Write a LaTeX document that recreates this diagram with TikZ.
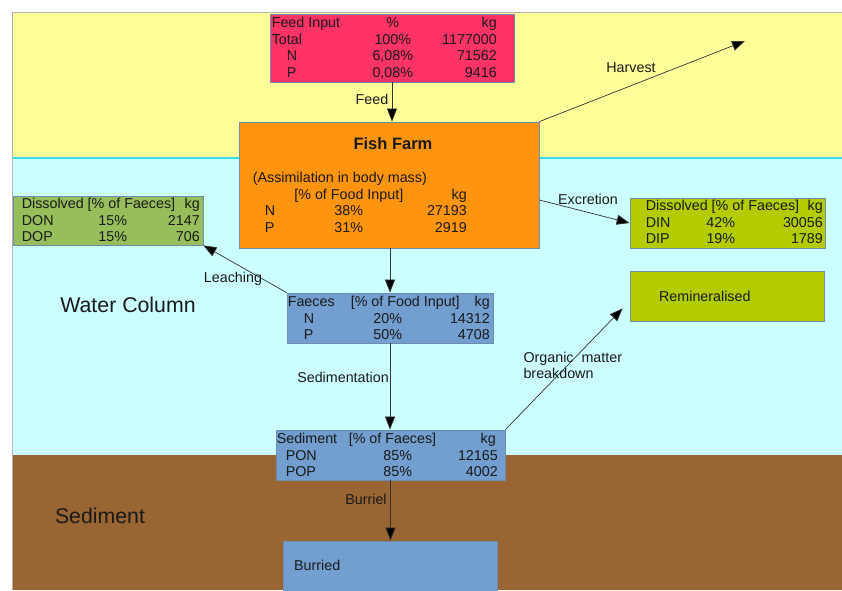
\documentclass[tikz,border=0pt]{standalone}
\usepackage{fontspec}
\setmainfont{Liberation Sans}
\usepackage{array}
\usepackage[dvipsnames]{xcolor}
\usepackage{tikz}
\usetikzlibrary{arrows.meta, positioning, calc}

\newcolumntype{L}[1]{>{\raggedright\arraybackslash}p{#1}}
\newcolumntype{C}[1]{>{\centering\arraybackslash}p{#1}}
\newcolumntype{R}[1]{>{\raggedleft\arraybackslash}p{#1}}

\definecolor{bandyellow}{RGB}{255,255,153}
\definecolor{bandcyan}{RGB}{204,255,255}
\definecolor{bandbrown}{RGB}{153,102,51}
\definecolor{cyanline}{RGB}{51,221,238}
\definecolor{boxline}{RGB}{110,140,175}
\definecolor{feedred}{RGB}{255,51,102}
\definecolor{farmorange}{RGB}{255,149,14}
\definecolor{donGreen}{RGB}{150,190,90}
\definecolor{dinGreen}{RGB}{179,204,0}
\definecolor{poolblue}{RGB}{114,159,207}

\begin{document}
\begin{tikzpicture}[x=1pt, y=-1pt, >={Triangle[length=13pt,width=10pt,fill=black]},
	font=\fontsize{14.3}{16.5}\selectfont, text=black!90,
	box/.style={rectangle, draw=boxline, line width=0.8pt, inner sep=0pt},
	tab/.style={inner sep=0pt, anchor=north west},
	flow/.style={->, draw=black!80, line width=0.7pt},
	zone/.style={font=\fontsize{21.3}{24}\selectfont}]

		\useasboundingbox (0,0) rectangle (842,590);

		% Zonas
		\fill[bandyellow] (12,12) rectangle (842,158);
		\fill[bandcyan] (12,158) rectangle (842,455);
		\fill[bandbrown] (12,455) rectangle (842,590);
		\draw[cyanline, line width=1.5pt] (12,158) -- (842,158);
		\draw[gray!60] (12,590) -- (12,12) -- (842,12);

		\node[zone] (water) at (128,305) {Water Column};
		\node[zone] (sedzone) at (100,516) {Sediment};

		% Cajas
		\node[box, fill=feedred, minimum width=244pt, minimum height=68pt] (feed) at (392,48) {};
		\node[tab] (feedtab) at ([xshift=2pt,yshift=-2.5pt]feed.north west) {%
			\begin{tabular}{@{}L{78pt}@{}C{86pt}@{}R{61pt}@{}}
				Feed Input & \% & kg\\
				Total & 100\% & 1177000\\
				\hspace*{15pt}N & 6,08\% & 71562\\
				\hspace*{15pt}P & 0,08\% & 9416
			\end{tabular}};

		\node[box, fill=farmorange, minimum width=300pt, minimum height=126pt] (farm) at (389,185) {};
		\node[font=\bfseries\fontsize{16.5}{18}\selectfont] (farmtitle) at ([xshift=4pt,yshift=-22pt]farm.north) {Fish Farm};
		\node[tab] (farmtab) at ([xshift=14pt,yshift=-49.5pt]farm.north west) {%
			\begin{tabular}{@{}L{37pt}@{}C{118pt}@{}R{59pt}@{}}
				\multicolumn{3}{@{}l@{}}{(Assimilation in body mass)}\\
				& [\% of Food Input] & kg\hspace*{3pt}\\
				\hspace*{12pt}N & 38\% & 27193\\
				\hspace*{12pt}P & 31\% & 2919
			\end{tabular}};

		\node[box, fill=donGreen, minimum width=190pt, minimum height=49pt] (don) at (108,220.5) {};
		\node[tab] (dontab) at ([xshift=9pt,yshift=-1.5pt]don.north west) {%
			\begin{tabular}{@{}L{58pt}@{}C{66pt}@{}R{54pt}@{}}
				\multicolumn{3}{@{}l@{}}{\makebox[178pt][l]{Dissolved [\% of Faeces]\hfill kg}}\\
				DON & 15\% & 2147\\
				DOP & 15\% & 706
			\end{tabular}};

		\node[box, fill=dinGreen, minimum width=195pt, minimum height=50pt] (din) at (727.5,223) {};
		\node[tab] (dintab) at ([xshift=16pt,yshift=-1.5pt]din.north west) {%
			\begin{tabular}{@{}L{44pt}@{}C{62pt}@{}R{71pt}@{}}
				\multicolumn{3}{@{}l@{}}{\makebox[177pt][l]{Dissolved [\% of Faeces]\hfill kg}}\\
				DIN & 42\% & 30056\\
				DIP & 19\% & 1789
			\end{tabular}};

		\node[box, fill=dinGreen, minimum width=194pt, minimum height=50pt] (remin) at (727,296) {};
		\node[anchor=west] (remintxt) at ([xshift=26pt]remin.west) {Remineralised};

		\node[box, fill=poolblue, minimum width=206pt, minimum height=50pt] (faeces) at (390,318) {};
		\node[tab] (faecestab) at ([xshift=1pt,yshift=-2.5pt]faeces.north west) {%
			\begin{tabular}{@{}L{63pt}@{}C{74pt}@{}R{65pt}@{}}
				\multicolumn{3}{@{}l@{}}{\makebox[202pt][l]{\makebox[63pt][l]{Faeces}[\% of Food Input]\hfill kg}}\\
				\hspace*{16pt}N & 20\% & 14312\\
				\hspace*{16pt}P & 50\% & 4708
			\end{tabular}};

		\node[box, fill=poolblue, minimum width=229pt, minimum height=50pt] (sed) at (390.5,455) {};
		\node[tab] (sedtab) at ([xshift=1pt,yshift=-2.5pt]sed.north west) {%
			\begin{tabular}{@{}L{73pt}@{}C{96pt}@{}R{52pt}@{}}
				\multicolumn{3}{@{}l@{}}{\makebox[221pt][l]{\makebox[72pt][l]{Sediment}[\% of Faeces]\hfill kg\hspace*{2pt}}}\\
				\hspace*{9pt}PON & 85\% & 12165\\
				\hspace*{9pt}POP & 85\% & 4002
			\end{tabular}};

		\node[box, fill=poolblue, minimum width=214pt, minimum height=59pt] (burried) at (390,570.5) {};
		\node[anchor=west] (burriedtxt) at ([xshift=8pt,yshift=-25pt]burried.north west) {Burried};

		% Flechas
		\coordinate (harvestend) at (745,41);

		\draw[flow] (feed.south) -- (feed.south |- farm.north);
		\draw[flow] (farm.north east) -- (harvestend);
		\draw[flow] ([yshift=-15pt]farm.east) -- (din.west);
		\draw[flow] (farm.south -| faeces.north) -- (faeces.north);
		\draw[flow] (faeces.north west) -- (don.south east);
		\draw[flow] (faeces.south) -- (faeces.south |- sed.north);
		\draw[flow] (sed.north east) -- ([xshift=-7pt,yshift=13pt]remin.south west);
		\draw[flow] (sed.south) -- (sed.south |- burried.north);

		% Etiquetas
		\node (feedlbl) at (372,99) {Feed};
		\node (harvestlbl) at (631,68) {Harvest};
		\node (excretionlbl) at (588,199) {Excretion};
		\node (leachinglbl) at (233,279) {Leaching};
		\node (sedimentationlbl) at (343,377) {Sedimentation};
		\node (burriellbl) at (366,499) {Burriel};
		\node[anchor=west, align=left, font=\fontsize{14.3}{16}\selectfont] (organiclbl) at (520,365) {Organic\ \ matter\\breakdown};
	\end{tikzpicture}
\end{document}
